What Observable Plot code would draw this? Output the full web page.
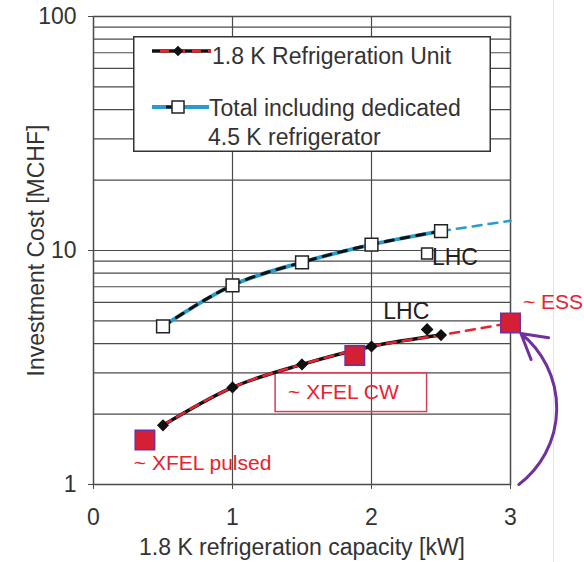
<!DOCTYPE html>
<html><head><meta charset="utf-8">
<script src="https://cdn.jsdelivr.net/npm/d3@7"></script>
<script src="https://cdn.jsdelivr.net/npm/@observablehq/plot@0.6"></script>
<style>
body{margin:0;background:#fff;}
#wrap{position:relative;width:584px;height:562px;font-family:"Liberation Sans",Arial,sans-serif;}
#edge{position:absolute;left:553px;top:0;width:1px;height:562px;background:#e4e4e4;}
#legend{position:absolute;left:133px;top:36px;}
</style></head><body><div id="wrap"></div>
<script>
// ---- data ----
const capacity   = [0.5, 1, 1.5, 2, 2.5];
const unitCost   = [1.79, 2.6, 3.26, 3.89, 4.35];   // 1.8 K refrigeration unit
const totalCost  = [4.74, 7.1, 8.9, 10.6, 12.1];    // total incl. 4.5 K refrigerator
const totalExtX  = [2.5, 3];
const totalExtY  = [12.1, 13.4];
const lhcUnitX   = [2.4];
const lhcUnitY   = [4.6];
const lhcTotalX  = [2.4];
const lhcTotalY  = [9.7];
const projNames  = ["~ XFEL pulsed", "~ XFEL CW", "~ ESS"];
const projX      = [0.37, 1.88, 3.0];
const projY      = [1.55, 3.56, 4.9];
const projLabelX = [0.29, 1.40, 3.09];
const projLabelY = [1.23, 2.48, 6.0];
const lhcLabelX  = [2.25, 2.6];
const lhcLabelY  = [5.5, 9.3];
const cwBox      = {x1: 1.31, x2: 2.40, y1: 2.04, y2: 2.99};
const essArrow   = {x1: 3.06, y1: 1.0, x2: 3.075, y2: 4.42};
const xTicks     = [0, 1, 2, 3];
const yTicks     = [1, 10, 100];
const yGrid      = [1,2,3,4,5,6,7,8,9,10,20,30,40,50,60,70,80,90,100];
const xGrid      = [1, 2];
const legendText = ["1.8 K Refrigeration Unit", "Total including dedicated", "4.5 K refrigerator"];

// ---- tables ----
const unit = capacity.map((x, i) => ({x, y: unitCost[i]}));
const total = capacity.map((x, i) => ({x, y: totalCost[i]}));
const unitFit = [...unit, {x: projX[2], y: projY[2]}];
const totalExt = totalExtX.map((x, i) => ({x, y: totalExtY[i]}));
const lhcUnit = lhcUnitX.map((x, i) => ({x, y: lhcUnitY[i]}));
const lhcTotal = lhcTotalX.map((x, i) => ({x, y: lhcTotalY[i]}));
const projects = projNames.map((name, i) => ({name, x: projX[i], y: projY[i], lx: projLabelX[i], ly: projLabelY[i]}));
const lhcLabels = lhcLabelX.map((x, i) => ({x, y: lhcLabelY[i], t: "LHC"}));

const RED = "#e8232f", BLUE = "#2a9ccc", PURPLE = "#7030a0", GRID = "#4a4a4a";
const font = '"Liberation Sans", Arial, sans-serif';

const chart = Plot.plot({
  width: 584, height: 562,
  marginLeft: 93, marginRight: 74, marginTop: 16, marginBottom: 78,
  style: {fontFamily: font, fontSize: "23px", color: "#333", background: "transparent", overflow: "visible"},
  x: {domain: [0, 3]},
  y: {type: "log", domain: [1, 100]},
  marks: [
    Plot.ruleY(yGrid, {stroke: GRID, strokeWidth: 1.2}),
    Plot.ruleX(xGrid, {stroke: GRID, strokeWidth: 1.2}),
    Plot.frame({stroke: GRID, strokeWidth: 1.5}),
    Plot.axisX({ticks: xTicks, tickSize: 5, tickPadding: 19, tickFormat: d => d, stroke: GRID,
      label: "1.8 K refrigeration capacity [kW]", labelAnchor: "center", labelArrow: "none", labelOffset: 70}),
    Plot.axisY({ticks: yTicks, tickSize: 5, tickPadding: 12, tickFormat: d => d, stroke: GRID,
      label: "Investment Cost [MCHF]", labelAnchor: "center", labelArrow: "none", labelOffset: 66}),
    // CW box
    Plot.rect([cwBox], {x1: "x1", x2: "x2", y1: "y1", y2: "y2", fill: "none", stroke: "#d2405a", strokeWidth: 1.5}),
    // total series
    Plot.line(totalExt, {x: "x", y: "y", stroke: BLUE, strokeWidth: 2.5, strokeDasharray: "9,7"}),
    Plot.line(total, {x: "x", y: "y", curve: "monotone-x", stroke: BLUE, strokeWidth: 4}),
    Plot.line(total, {x: "x", y: "y", curve: "monotone-x", stroke: "#111", strokeWidth: 3, strokeDasharray: "8,8"}),
    // unit series
    Plot.line(unit, {x: "x", y: "y", curve: "monotone-x", stroke: "#111", strokeWidth: 3.5}),
    Plot.line(unitFit, {x: "x", y: "y", curve: "monotone-x", stroke: RED, strokeWidth: 2.5, strokeDasharray: "9,7"}),
    Plot.dot(unit, {x: "x", y: "y", symbol: "diamond2", r: 4.5, fill: "#111", stroke: "#111"}),
    Plot.dot(total, {x: "x", y: "y", symbol: "square", r: 7.2, fill: "white", stroke: "#222", strokeWidth: 1.5}),
    Plot.dot(lhcUnit, {x: "x", y: "y", symbol: "diamond2", r: 4.8, fill: "#111", stroke: "#111"}),
    Plot.dot(lhcTotal, {x: "x", y: "y", symbol: "square", r: 6.2, fill: "white", stroke: "#222", strokeWidth: 1.5}),
    // projects
    Plot.dot(projects, {x: "x", y: "y", symbol: "square", r: 11, fill: "#d41f35", stroke: PURPLE, strokeWidth: 1.5}),
    Plot.text(projects, {x: "lx", y: "ly", text: "name", textAnchor: "start", fill: RED, fontSize: 21}),
    Plot.text(lhcLabels, {x: "x", y: "y", text: "t", textAnchor: "middle", fill: "#222", fontSize: 23}),
    Plot.arrow([essArrow], {x1: "x1", y1: "y1", x2: "x2", y2: "y2", bend: -52, stroke: PURPLE, strokeWidth: 3, headLength: 14})
  ]
});

const wrap = document.getElementById("wrap");
const edge = document.createElement("div"); edge.id = "edge"; wrap.appendChild(edge);
chart.style.position = "absolute"; chart.style.left = "0"; chart.style.top = "0";
wrap.appendChild(chart);

// legend overlay
const W = 358, H = 116;
const lg = d3.create("svg").attr("id", "legend").attr("width", W).attr("height", H)
  .style("font-family", font).style("font-size", "23px");
lg.append("rect").attr("x", 0.75).attr("y", 0.75).attr("width", W - 1.5).attr("height", H - 1.5)
  .attr("fill", "white").attr("stroke", "#333").attr("stroke-width", 1.5);
// entry 1
lg.append("line").attr("x1", 19).attr("x2", 78).attr("y1", 15).attr("y2", 15).attr("stroke", "#111").attr("stroke-width", 3.5);
lg.append("line").attr("x1", 27).attr("x2", 78).attr("y1", 15).attr("y2", 15).attr("stroke", RED).attr("stroke-width", 3).attr("stroke-dasharray", "9,7");
lg.append("path").attr("d", d3.symbol(d3.symbolDiamond2, Math.PI * 4.8 * 4.8)()).attr("transform", "translate(45,15)").attr("fill", "#111");
lg.append("text").attr("x", 79).attr("y", 28).attr("fill", "#333").text(legendText[0]);
// entry 2
lg.append("line").attr("x1", 19).attr("x2", 76).attr("y1", 71).attr("y2", 71).attr("stroke", BLUE).attr("stroke-width", 4);
lg.append("line").attr("x1", 19).attr("x2", 76).attr("y1", 71).attr("y2", 71).attr("stroke", "#111").attr("stroke-width", 3).attr("stroke-dasharray", "0,14,8,40");
lg.append("rect").attr("x", 39).attr("y", 65).attr("width", 12).attr("height", 12).attr("fill", "white").attr("stroke", "#222").attr("stroke-width", 1.5);
lg.append("text").attr("x", 76).attr("y", 80).attr("fill", "#333").text(legendText[1]);
lg.append("text").attr("x", 75).attr("y", 109).attr("fill", "#333").text(legendText[2]);
wrap.appendChild(lg.node());
</script></body></html>
